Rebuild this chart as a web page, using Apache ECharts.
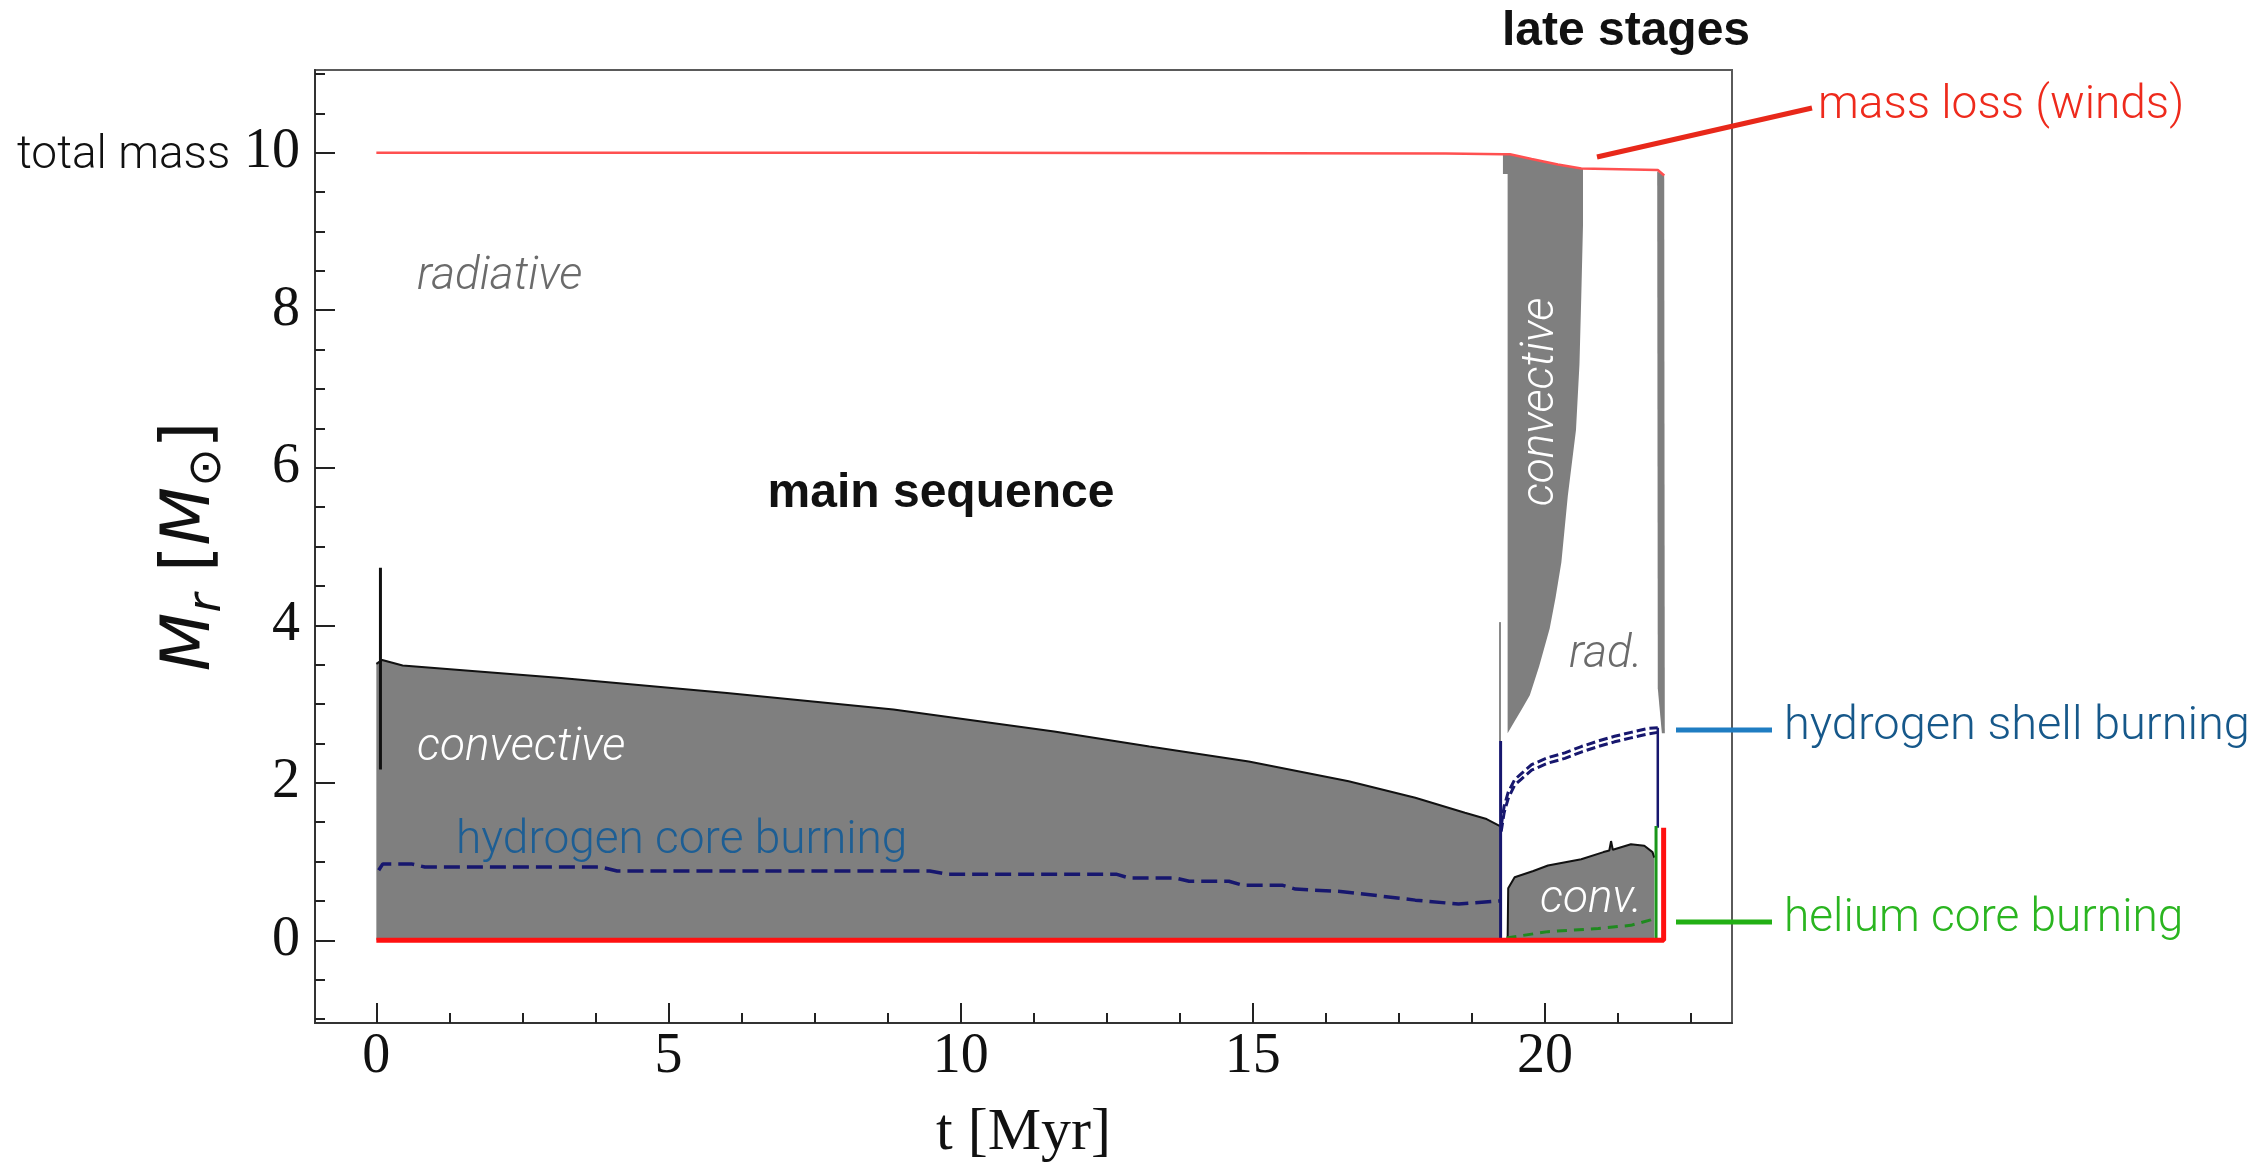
<!DOCTYPE html>
<html>
<head>
<meta charset="utf-8">
<title>Kippenhahn diagram</title>
<script src="https://cdn.jsdelivr.net/npm/echarts@6/dist/echarts.min.js"></script>
<style>
  html, body { margin: 0; padding: 0; background: #fff; }
  #chart { width: 2263px; height: 1168px; }
</style>
</head>
<body>
<div id="chart"></div>
<script>
// ticks
var xMajor = [0, 5, 10, 15, 20];
var xMinor = [1.25, 2.5, 3.75, 6.25, 7.5, 8.75, 11.25, 12.5, 13.75, 16.25, 17.5, 18.75, 21.25, 22.5];
var yMajor = [0, 2, 4, 6, 8, 10];
var yMinor = [-1, -0.5, 0.5, 1, 1.5, 2.5, 3, 3.5, 4.5, 5, 5.5, 6.5, 7, 7.5, 8.5, 9, 9.5, 10.5, 11];

// total mass (t in Myr, M in Msun)
var totalT = [0, 10, 18.3, 19.28, 19.4, 19.77, 20.22, 20.62, 21.93, 22.04];
var totalM = [10.0, 10.0, 9.99, 9.98, 9.98, 9.92, 9.85, 9.80, 9.78, 9.71];

// main sequence convective core (upper boundary)
var coreT = [0, 0.1, 0.45, 3.16, 6.0, 8.85, 11.6, 13.23, 14.93, 16.64, 17.78, 18.63, 19.0, 19.23];
var coreM = [3.51, 3.56, 3.49, 3.33, 3.14, 2.93, 2.65, 2.46, 2.27, 2.02, 1.81, 1.62, 1.54, 1.45];

// early spike at the start of the main sequence
var spikeT = [0.07, 0.07];
var spikeM = [4.73, 2.17];

// late convective envelope outline
var envT = [19.28, 19.40, 19.77, 20.22, 20.65, 20.65, 20.62, 20.59, 20.53, 20.39, 20.28, 20.18, 20.08, 19.90, 19.74, 19.60, 19.48, 19.36, 19.36, 19.28];
var envM = [9.98, 9.98, 9.92, 9.85, 9.80, 9.08, 8.16, 7.32, 6.48, 5.64, 4.80, 4.35, 3.96, 3.48, 3.11, 2.93, 2.78, 2.63, 9.73, 9.73];

// thin convective strip at the end
var stripT = [21.92, 22.04, 22.05, 22.00, 21.93];
var stripM = [9.76, 9.72, 2.63, 2.63, 3.20];

// thin spike at the end of the main sequence
var tipT = [19.23, 19.23];
var tipM = [2.53, 4.04];

// late convective core (helium burning phase)
var lateCoreT = [19.36, 19.37, 19.48, 19.8, 20.05, 20.62, 21.0, 21.1, 21.13, 21.16, 21.47, 21.70, 21.84, 21.87];
var lateCoreM = [0, 0.66, 0.80, 0.88, 0.95, 1.03, 1.12, 1.14, 1.26, 1.15, 1.22, 1.20, 1.12, 1.05];

// hydrogen core burning region (dashed)
var hCoreT = [0.04, 0.11, 0.6, 0.83, 3.84, 4.12, 9.47, 9.76, 12.66, 12.89, 13.68, 13.91, 14.59, 14.82, 15.50, 15.73, 16.5, 17.21, 17.78, 18.52, 19.2, 19.24];
var hCoreM = [0.89, 0.97, 0.97, 0.93, 0.93, 0.88, 0.88, 0.84, 0.84, 0.79, 0.79, 0.75, 0.75, 0.70, 0.70, 0.65, 0.62, 0.56, 0.51, 0.46, 0.50, 0.50];

// hydrogen shell burning region (two dashed boundaries)
var shellT = [19.25, 19.30, 19.37, 19.48, 19.60, 19.77, 20.05, 20.34, 20.62, 20.91, 21.19, 21.47, 21.76, 21.93];
var shellTopM = [1.45, 1.70, 1.88, 2.04, 2.12, 2.23, 2.32, 2.38, 2.46, 2.53, 2.59, 2.64, 2.69, 2.70];
var shellBotM = [1.38, 1.62, 1.80, 1.97, 2.05, 2.16, 2.25, 2.31, 2.39, 2.46, 2.52, 2.57, 2.62, 2.64];

// helium core burning (dashed)
var heT = [19.34, 20.05, 20.91, 21.47, 21.81, 21.87];
var heM = [0.03, 0.11, 0.15, 0.19, 0.26, 0.28];

// vertical boundaries
var hVertLeftT = [19.24, 19.24];
var hVertLeftM = [0, 2.53];
var hVertRightT = [21.93, 21.93];
var hVertRightM = [1.43, 2.70];
var heVertT = [21.90, 21.90];
var heVertM = [0, 1.45];
var redBaseT = [0, 22.03, 22.03];
var redBaseM = [0, 0, 1.43];

var GRAY = "#7f7f7f";
var NAVY = "#17176e";
var SANS = "Roboto, 'Liberation Sans', sans-serif";
var BOLD = "bold 48px 'Liberation Sans', sans-serif";
var axisFont = "'Liberation Serif', 'Times New Roman', serif";

function pairs(t, m) {
  var out = [];
  for (var i = 0; i < t.length; i++) out.push([t[i], m[i]]);
  return out;
}

function polySeries(t, m, color) {
  var pts = pairs(t, m);
  return {
    type: "custom",
    coordinateSystem: "cartesian2d",
    silent: true,
    z: 1,
    data: [pts[0]],
    renderItem: function (params, api) {
      return {
        type: "polygon",
        shape: { points: pts.map(function (p) { return api.coord(p); }) },
        style: { fill: color, stroke: null }
      };
    }
  };
}

function lineSeries(t, m, color, width, dash, z) {
  return {
    type: "line",
    data: pairs(t, m),
    showSymbol: false,
    silent: true,
    z: z || 3,
    lineStyle: { color: color, width: width, type: dash || "solid" }
  };
}

function textEl(str, x, y, font, color, align, rot) {
  return {
    type: "text",
    x: x, y: y,
    rotation: rot || 0,
    silent: true,
    z: 10,
    style: {
      text: str, font: font, fill: color,
      textAlign: align || "left", align: align || "left",
      textVerticalAlign: "middle", verticalAlign: "middle"
    }
  };
}

function lineEl(x1, y1, x2, y2, color, w) {
  return {
    type: "line", silent: true, z: 9,
    shape: { x1: x1, y1: y1, x2: x2, y2: y2 },
    style: { stroke: color, lineWidth: w }
  };
}

// axis that only carries ticks (no line, no labels)
function tickAxis(range, values, len, pos) {
  return {
    type: "value", min: range[0], max: range[1], position: pos,
    axisLine: { show: false, onZero: false },
    axisTick: { show: true, inside: true, length: len, customValues: values, lineStyle: { color: "#222", width: 2 } },
    axisLabel: { show: false },
    splitLine: { show: false }
  };
}

var xRange = [-1.05, 23.2];
var yRange = [-1.05, 11.05];

var chart = echarts.init(document.getElementById("chart"));

var option = {
  animation: false,
  backgroundColor: "#fff",
  grid: {
    left: 315, right: 531, top: 70, bottom: 138,
    show: true, borderColor: "#5a5a5a", borderWidth: 2, backgroundColor: "transparent"
  },
  xAxis: [
    {
      type: "value", min: xRange[0], max: xRange[1], position: "bottom",
      axisLine: { show: true, onZero: false, lineStyle: { color: "#333", width: 2 } },
      axisTick: { show: false },
      axisLabel: { customValues: xMajor, margin: 6, color: "#111", fontFamily: axisFont, fontSize: 56 },
      splitLine: { show: false },
      name: "t [Myr]", nameLocation: "middle", nameGap: 80,
      nameTextStyle: { fontFamily: axisFont, fontSize: 60, color: "#111" }
    },
    tickAxis(xRange, xMajor, 20, "bottom"),
    tickAxis(xRange, xMinor, 10, "bottom")
  ],
  yAxis: [
    {
      type: "value", min: yRange[0], max: yRange[1], position: "left",
      axisLine: { show: true, onZero: false, lineStyle: { color: "#333", width: 2 } },
      axisTick: { show: false },
      axisLabel: { customValues: yMajor, margin: 15, color: "#111", fontFamily: axisFont, fontSize: 56 },
      splitLine: { show: false },
      name: "{i|M}{s|r} [{i|M}{s|\u2299}]",
      nameLocation: "middle", nameRotate: 90, nameGap: 76,
      nameTextStyle: {
        fontFamily: "'DejaVu Sans', sans-serif", fontSize: 68, color: "#111",
        rich: {
          i: { fontFamily: "'DejaVu Sans', sans-serif", fontStyle: "italic", fontSize: 68, color: "#111", lineHeight: 84, verticalAlign: "middle" },
          s: { fontFamily: "'DejaVu Sans', sans-serif", fontStyle: "italic", fontSize: 46, color: "#111", lineHeight: 84, verticalAlign: "bottom", padding: [0, 0, 2, 0] }
        }
      }
    },
    tickAxis(yRange, yMajor, 20, "left"),
    tickAxis(yRange, yMinor, 10, "left")
  ],
  series: [
    // main sequence convective core
    {
      type: "line", data: pairs(coreT, coreM), showSymbol: false, silent: true, z: 1,
      lineStyle: { color: "#111", width: 2 },
      areaStyle: { color: GRAY, opacity: 1, origin: 0 }
    },
    polySeries(envT, envM, GRAY),
    polySeries(stripT, stripM, GRAY),
    // late convective core
    {
      type: "line", data: pairs(lateCoreT, lateCoreM), showSymbol: false, silent: true, z: 1,
      lineStyle: { color: "#111", width: 2 },
      areaStyle: { color: GRAY, opacity: 1, origin: 0 }
    },
    lineSeries(tipT, tipM, "#8a8a8a", 2, "solid", 2),
    lineSeries(spikeT, spikeM, "#111", 3, "solid", 3),
    lineSeries(totalT, totalM, "#ff5050", 2.5, "solid", 4),
    lineSeries(hCoreT, hCoreM, NAVY, 3.5, [16, 7], 4),
    lineSeries(shellT, shellTopM, NAVY, 3, [9, 4], 4),
    lineSeries(shellT, shellBotM, NAVY, 3, [9, 4], 4),
    lineSeries(hVertLeftT, hVertLeftM, NAVY, 3, "solid", 4),
    lineSeries(hVertRightT, hVertRightM, NAVY, 2.5, "solid", 4),
    lineSeries(heT, heM, "#1f8a1f", 3, [10, 7], 4),
    lineSeries(heVertT, heVertM, "#1a961a", 3, "solid", 5),
    lineSeries(redBaseT, redBaseM, "#ff1010", 5, "solid", 6)
  ],
  graphic: [
    textEl("total mass", 17, 156, "300 46px " + SANS, "#111", "left"),
    textEl("late stages", 1626, 32, BOLD, "#111", "center"),
    textEl("main sequence", 941, 494, BOLD, "#111", "center"),
    textEl("radiative", 417, 277, "italic 300 46px " + SANS, "#6b6b6b", "left"),
    textEl("convective", 417, 748, "italic 300 46px " + SANS, "#ffffff", "left"),
    textEl("hydrogen core burning", 456, 841, "300 46px " + SANS, "#1d5e94", "left"),
    textEl("convective", 1541, 402, "italic 300 46px " + SANS, "#ffffff", "center", Math.PI / 2),
    textEl("rad.", 1569, 655, "italic 300 46px " + SANS, "#6b6b6b", "left"),
    textEl("conv.", 1540, 900, "italic 300 46px " + SANS, "#ffffff", "left"),
    textEl("mass loss (winds)", 1818, 106, "300 46px " + SANS, "#ee2a1c", "left"),
    textEl("hydrogen shell burning", 1784, 727, "300 47px " + SANS, "#16588a", "left"),
    textEl("helium core burning", 1784, 919, "300 46px " + SANS, "#2ab520", "left"),
    lineEl(1597, 157, 1812, 108, "#e8281a", 5),
    lineEl(1676, 730, 1772, 730, "#1f7dc2", 5),
    lineEl(1676, 922, 1772, 922, "#22b014", 5)
  ]
};

chart.setOption(option);
</script>
</body>
</html>
